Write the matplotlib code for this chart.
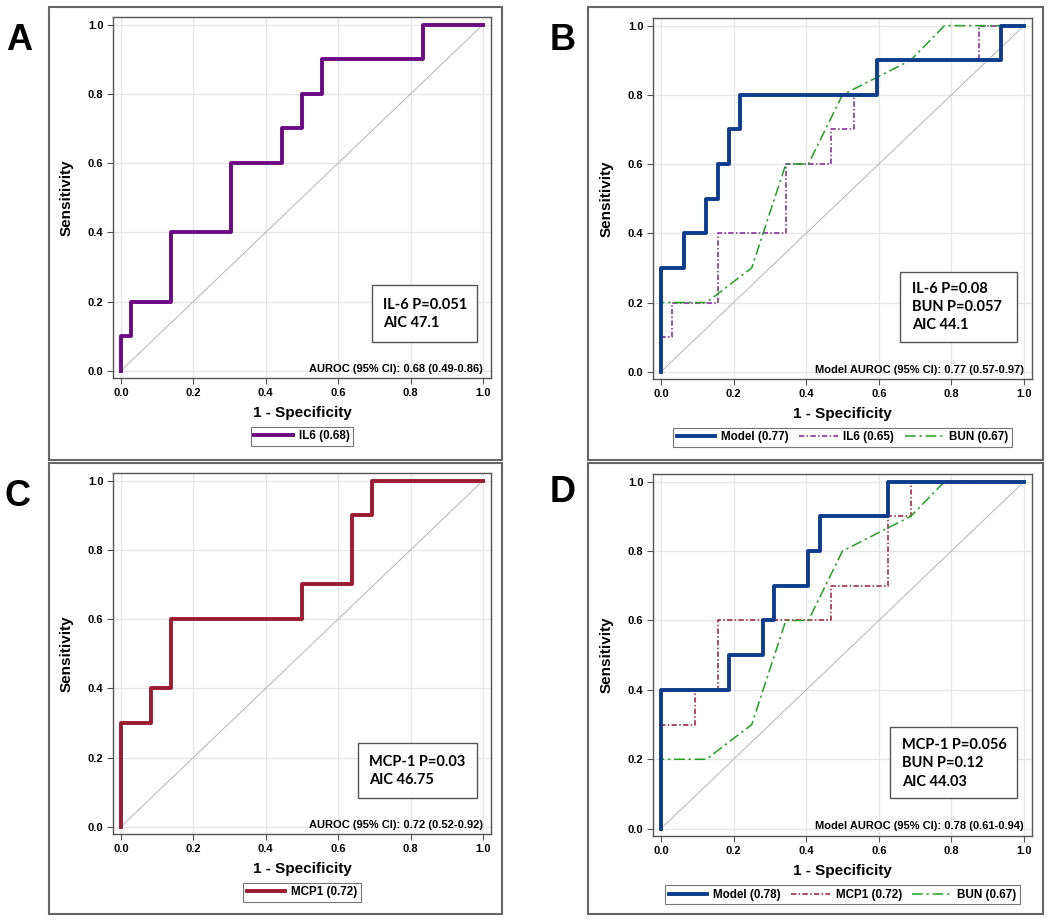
import numpy as np
import matplotlib
matplotlib.use('Agg')
import matplotlib.pyplot as plt
from matplotlib.patches import Rectangle

plt.rcParams['font.family'] = ['Liberation Sans', 'DejaVu Sans']

# ROC operating points: 1 - specificity (fpr) and sensitivity (tpr)
a_il6_fpr = [0, 0, 0.028, 0.138, 0.305, 0.444, 0.5, 0.555, 0.833, 1.0]
a_il6_tpr = [0, 0.1, 0.2, 0.4, 0.6, 0.7, 0.8, 0.9, 1.0, 1.0]

c_mcp1_fpr = [0, 0, 0.083, 0.138, 0.5, 0.639, 0.694, 1.0]
c_mcp1_tpr = [0, 0.3, 0.4, 0.6, 0.7, 0.9, 1.0, 1.0]

b_model_fpr = [0, 0, 0.0625, 0.125, 0.156, 0.1875, 0.219, 0.594, 0.9375, 1.0]
b_model_tpr = [0, 0.3, 0.4, 0.5, 0.6, 0.7, 0.8, 0.9, 1.0, 1.0]
b_il6_fpr = [0, 0, 0.031, 0.156, 0.344, 0.469, 0.531, 0.594, 0.875, 1.0]
b_il6_tpr = [0, 0.1, 0.2, 0.4, 0.6, 0.7, 0.8, 0.9, 1.0, 1.0]

d_model_fpr = [0, 0, 0.1875, 0.281, 0.3125, 0.406, 0.4375, 0.625, 1.0]
d_model_tpr = [0, 0.4, 0.5, 0.6, 0.7, 0.8, 0.9, 1.0, 1.0]
d_mcp1_fpr = [0, 0, 0.094, 0.156, 0.469, 0.625, 0.688, 1.0]
d_mcp1_tpr = [0, 0.3, 0.4, 0.6, 0.7, 0.9, 1.0, 1.0]

# BUN curve has ties -> straight segments
bun_fpr = [0, 0, 0.125, 0.25, 0.344, 0.406, 0.5, 0.688, 0.781, 1.0]
bun_tpr = [0, 0.2, 0.2, 0.3, 0.6, 0.6, 0.8, 0.9, 1.0, 1.0]

ticks = [0.0, 0.2, 0.4, 0.6, 0.8, 1.0]
tick_labels = ['0.0', '0.2', '0.4', '0.6', '0.8', '1.0']

W, H = 1050, 924
def fx(px):
    return px / W
def fy(py):
    return 1 - py / H

purple = '#6C0A84'
crimson = '#9A1B33'
navy = '#0D3C8C'
green = '#22A022'
thin_dd = (0, (3.5, 1.5, 1, 1.5))
long_dd = (0, (7, 2.5, 1.5, 2.5))

fig = plt.figure(figsize=(W / 100, H / 100), dpi=100)
fig.patch.set_facecolor('white')

def add_axes(left, top, right, bottom):
    ax = fig.add_axes([fx(left), fy(bottom), (right - left) / W, (bottom - top) / H])
    ax.plot([0, 1], [0, 1], color='#B4B4B4', lw=0.7, zorder=1)
    ax.set_xlim(-0.022, 1.022)
    ax.set_ylim(-0.021, 1.022)
    ax.set_xticks(ticks)
    ax.set_yticks(ticks)
    ax.set_xticklabels(tick_labels, fontweight='bold')
    ax.set_yticklabels(tick_labels, fontweight='bold')
    ax.grid(color='#E6E6E6', lw=1)
    ax.set_axisbelow(True)
    for s in ax.spines.values():
        s.set_color('#555555')
        s.set_linewidth(1.0)
    ax.tick_params(length=4, width=0.8, color='#555555', labelsize=8, pad=3)
    ax.set_xlabel('1 - Specificity', fontsize=11, fontweight='bold', labelpad=6)
    ax.set_ylabel('Sensitivity', fontsize=11, fontweight='bold', labelpad=10)
    return ax

def stat_box(ax, x0, y0, x1, y1, text_x, line_ys, lines):
    # box and lines given in figure pixels
    fig.add_artist(Rectangle((fx(x0), fy(y1)), (x1 - x0) / W, (y1 - y0) / H,
                             transform=fig.transFigure, fill=True, facecolor='white',
                             edgecolor='#555555', lw=1.0, zorder=5))
    for ly, s in zip(line_ys, lines):
        fig.text(fx(text_x), fy(ly), s, fontsize=10.5, fontweight='bold', family=['Lato', 'DejaVu Sans'],
                 ha='left', va='center', zorder=6)

def legend(ax, ncol):
    leg = ax.legend(loc='center', bbox_to_anchor=(0.5, -0.162), ncol=ncol, frameon=True,
                    fancybox=False, edgecolor='#555555', prop={'weight': 'bold', 'size': 8.4},
                    borderpad=0.3, handlelength=3.3, handletextpad=0.5, columnspacing=0.9, borderaxespad=0)
    leg.get_frame().set_linewidth(0.8)

# Panel A
ax = add_axes(113, 17, 491, 378)
ax.plot(a_il6_fpr, a_il6_tpr, drawstyle='steps-post', color=purple, lw=2.8, label='IL6 (0.68)', zorder=3)
ax.text(1.0, -0.008, 'AUROC (95% CI): 0.68 (0.49-0.86)', ha='right', va='bottom', fontsize=8, fontweight='bold')
legend(ax, 1)
stat_box(ax, 372, 285, 477, 342, 383, [305, 323], ['IL-6 P=0.051', 'AIC 47.1'])

# Panel B
ax = add_axes(653, 18, 1032, 379)
ax.plot(b_model_fpr, b_model_tpr, drawstyle='steps-post', color=navy, lw=2.8, label='Model (0.77)', zorder=4)
ax.plot(b_il6_fpr, b_il6_tpr, drawstyle='steps-post', color='#7B2290', lw=1.1, ls=thin_dd, label='IL6 (0.65)', zorder=3)
ax.plot(bun_fpr, bun_tpr, color=green, lw=1.1, ls=long_dd, label='BUN (0.67)', zorder=3)
ax.text(1.0, -0.008, 'Model AUROC (95% CI): 0.77 (0.57-0.97)', ha='right', va='bottom', fontsize=8, fontweight='bold')
legend(ax, 3)
stat_box(ax, 900, 272, 1017, 342, 912, [289, 307, 325], ['IL-6 P=0.08', 'BUN P=0.057', 'AIC 44.1'])

# Panel C
ax = add_axes(113, 473, 491, 834)
ax.plot(c_mcp1_fpr, c_mcp1_tpr, drawstyle='steps-post', color=crimson, lw=2.8, label='MCP1 (0.72)', zorder=3)
ax.text(1.0, -0.008, 'AUROC (95% CI): 0.72 (0.52-0.92)', ha='right', va='bottom', fontsize=8, fontweight='bold')
legend(ax, 1)
stat_box(ax, 358, 743, 477, 798, 369, [762, 780], ['MCP-1 P=0.03', 'AIC 46.75'])

# Panel D
ax = add_axes(653, 474, 1032, 836)
ax.plot(d_model_fpr, d_model_tpr, drawstyle='steps-post', color=navy, lw=2.8, label='Model (0.78)', zorder=4)
ax.plot(d_mcp1_fpr, d_mcp1_tpr, drawstyle='steps-post', color=crimson, lw=1.1, ls=thin_dd, label='MCP1 (0.72)', zorder=3)
ax.plot(bun_fpr, bun_tpr, color=green, lw=1.1, ls=long_dd, label='BUN (0.67)', zorder=3)
ax.text(1.0, -0.008, 'Model AUROC (95% CI): 0.78 (0.61-0.94)', ha='right', va='bottom', fontsize=8, fontweight='bold')
legend(ax, 3)
stat_box(ax, 890, 727, 1017, 798, 902, [745, 763, 782], ['MCP-1 P=0.056', 'BUN P=0.12', 'AIC 44.03'])

# panel frames and letters
for (x0, y0, x1, y1) in [(49, 7, 502, 460), (588, 7, 1043, 460), (49, 463, 502, 914), (588, 463, 1043, 914)]:
    fig.add_artist(Rectangle((fx(x0), fy(y1)), (x1 - x0) / W, (y1 - y0) / H, transform=fig.transFigure,
                             fill=False, edgecolor='#666666', lw=1.5))
for letter, x, y in [('A', 19, 40), ('B', 563, 40), ('C', 18, 497), ('D', 563, 493)]:
    fig.text(fx(x), fy(y), letter, fontsize=26, fontweight='bold', ha='center', va='center')

fig.savefig('out.png', dpi=100)
